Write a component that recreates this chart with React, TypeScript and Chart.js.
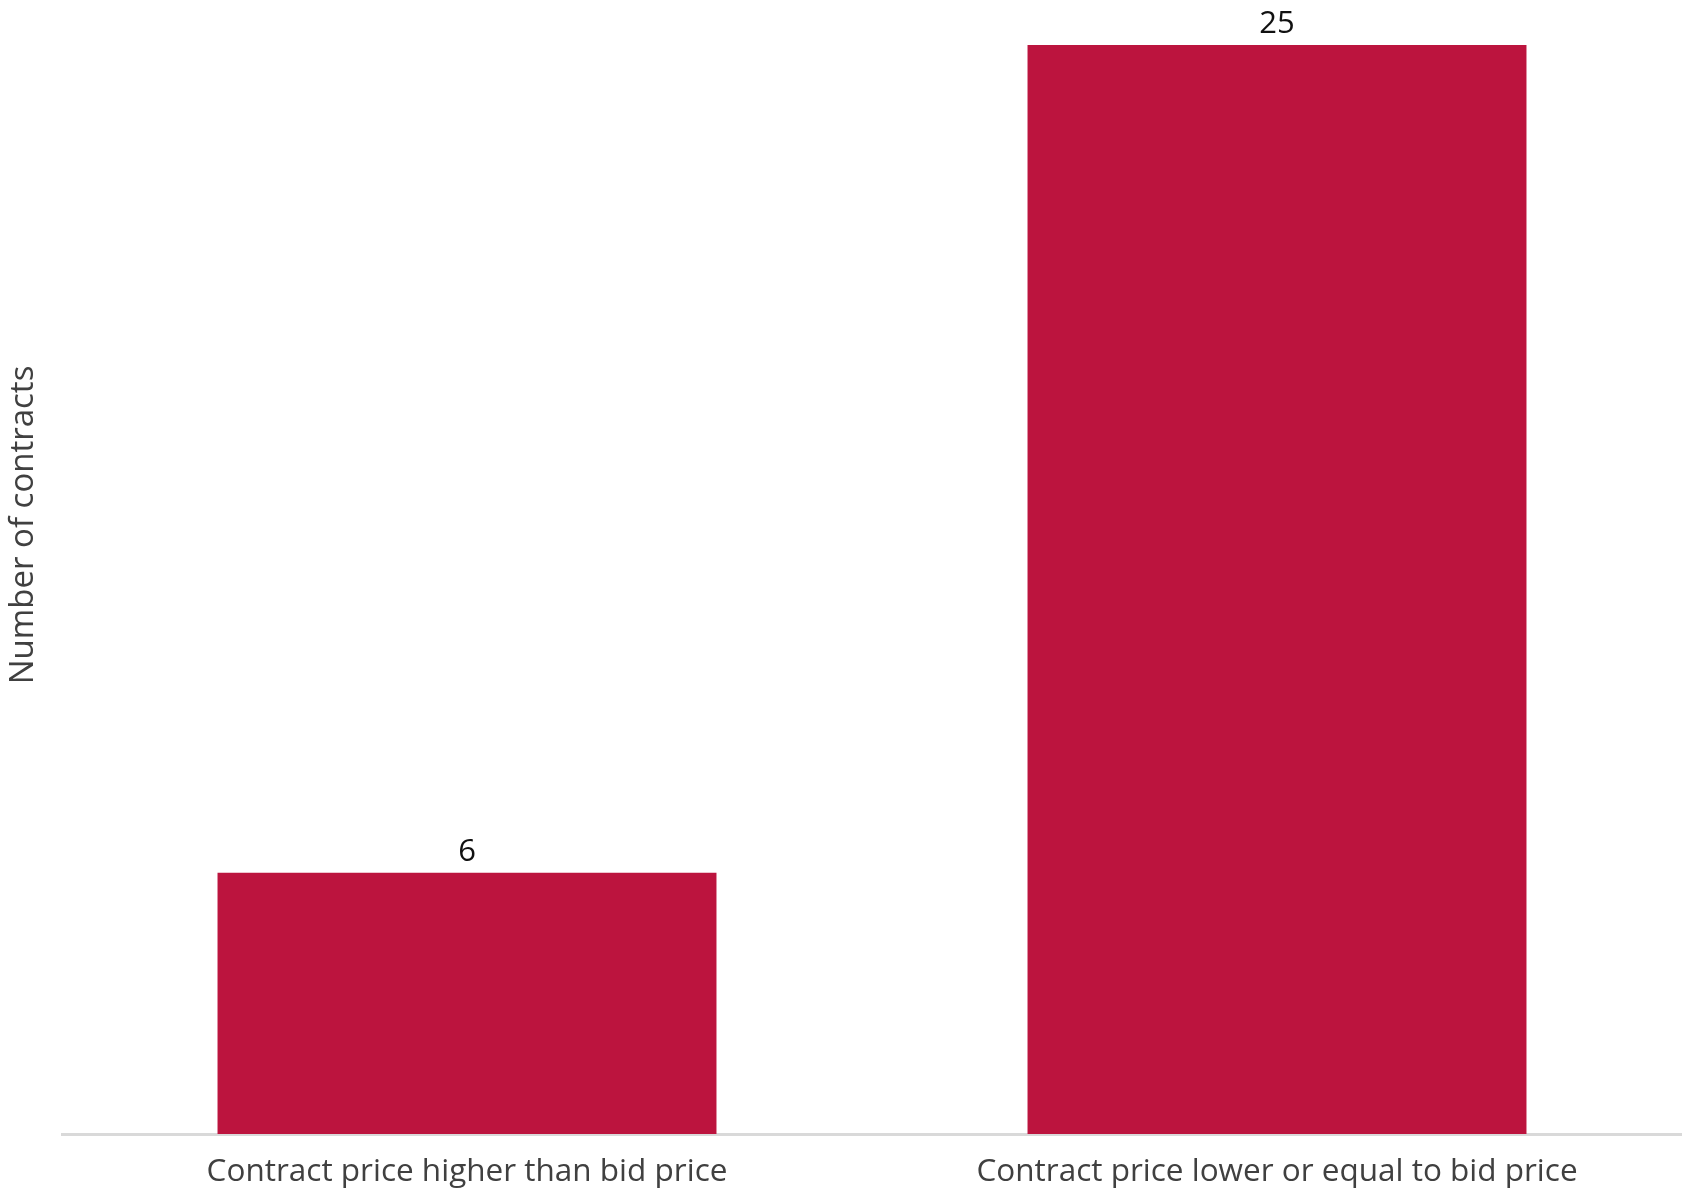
import React, { useEffect, useRef } from "react";
import { Chart, registerables } from "chart.js";

Chart.register(...registerables);

const categories = ["Contract price higher than bid price", "Contract price lower or equal to bid price"];
const contractCounts = [6, 25];
const yAxisTitle = "Number of contracts";

const FONT = "'Open Sans', 'Noto Sans', sans-serif";

export default function App() {
  const ref = useRef<HTMLCanvasElement | null>(null);
  useEffect(() => {
    const canvas = ref.current;
    if (!canvas) return;
    const valueLabels = {
      id: "valueLabels",
      afterDatasetsDraw(chart: any) {
        const ctx = chart.ctx;
        const meta = chart.getDatasetMeta(0);
        ctx.save();
        ctx.font = `31px ${FONT}`;
        ctx.fillStyle = "#111111";
        ctx.textAlign = "center";
        ctx.textBaseline = "bottom";
        meta.data.forEach((bar: any, i: number) => {
          ctx.fillText(String(contractCounts[i]), bar.x, bar.y - 5);
        });
        ctx.restore();
      },
    };
    const yTitle = {
      id: "yTitle",
      afterDraw(chart: any) {
        const ctx = chart.ctx;
        ctx.save();
        ctx.translate(24, 525);
        ctx.rotate(-Math.PI / 2);
        ctx.font = `33px ${FONT}`;
        ctx.fillStyle = "#404040";
        ctx.textAlign = "center";
        ctx.textBaseline = "middle";
        ctx.fillText(yAxisTitle, 0, 0);
        ctx.restore();
      },
    };
    const chart = new Chart(canvas, {
      type: "bar",
      data: {
        labels: categories,
        datasets: [
          {
            data: contractCounts,
            backgroundColor: "#BC143E",
            categoryPercentage: 1,
            barPercentage: 0.616,
          },
        ],
      },
      options: {
        animation: false,
        responsive: false,
        maintainAspectRatio: false,
        layout: { padding: { left: 62, right: 0, top: 45, bottom: 0 } },
        plugins: { legend: { display: false }, tooltip: { enabled: false } },
        scales: {
          x: {
            grid: { display: false, drawTicks: false },
            border: { display: true, color: "#d9d9d9", width: 3 },
            ticks: { font: { family: FONT, size: 31.5 }, color: "#404040", padding: 19, maxRotation: 0 },
            afterFit(scale: any) {
              scale.height = 59;
            },
          },
          y: {
            display: false,
            min: 0,
            max: 25,
          },
        },
      },
      plugins: [valueLabels, yTitle],
    });
    return () => chart.destroy();
  }, []);
  return (
    <div style={{ position: "fixed", left: 0, top: 0, width: 1682, height: 1193, background: "#fff" }}>
      <canvas ref={ref} width={1682} height={1193} style={{ width: 1682, height: 1193 }} />
    </div>
  );
}
